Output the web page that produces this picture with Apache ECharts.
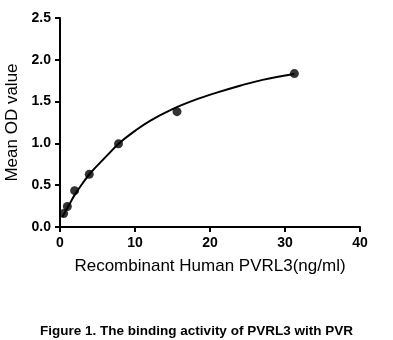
<!DOCTYPE html>
<html><head><meta charset="utf-8">
<script src="https://cdn.jsdelivr.net/npm/echarts@6/dist/echarts.min.js"></script>
<style>html,body{margin:0;padding:0;background:#fff}#c{width:393px;height:340px}</style>
</head><body><div id="c"></div>
<script>
var concX = [0.49, 0.98, 1.95, 3.9, 7.8, 15.6, 31.25];
var meanOD = [0.16, 0.245, 0.435, 0.63, 0.995, 1.38, 1.835];
var fitX = [0.3, 0.49, 1, 2, 3, 4, 6, 8, 10, 12, 15, 18, 21, 24, 27, 31.25];
var fitY = [0.12, 0.15, 0.23, 0.39, 0.52, 0.64, 0.83, 1.01, 1.15, 1.27, 1.41, 1.52, 1.61, 1.69, 1.76, 1.83];
var xTicks = [0, 10, 20, 30, 40];
var yTicks = [0, 0.5, 1.0, 1.5, 2.0, 2.5];

var chart = echarts.init(document.getElementById('c'), null, {renderer: 'canvas'});
var fontF = 'Liberation Sans, Arial, sans-serif';
chart.setOption({
  animation: false,
  backgroundColor: '#fff',
  grid: {left: 60, right: 33, top: 18, bottom: 113, containLabel: false, outerBoundsMode: 'none'},
  title: {
    text: 'Figure 1. The binding activity of PVRL3 with PVR',
    left: 'center', top: 319,
    textStyle: {fontFamily: fontF, fontSize: 13.5, fontWeight: 'bold', color: '#000'}
  },
  xAxis: {
    type: 'value', min: 0, max: 40, interval: 10,
    name: 'Recombinant Human PVRL3(ng/ml)', nameLocation: 'middle', nameGap: 31,
    nameTextStyle: {fontFamily: fontF, fontSize: 17, color: '#000'},
    axisLine: {show: true, onZero: false, lineStyle: {color: '#000', width: 2}},
    axisTick: {show: true, length: 5, lineStyle: {color: '#000', width: 2}},
    axisLabel: {fontFamily: fontF, fontSize: 14, fontWeight: 'bold', color: '#000', margin: 9,
      formatter: function(v){ return xTicks.indexOf(v) >= 0 ? String(v) : ''; }},
    splitLine: {show: false}
  },
  yAxis: {
    type: 'value', min: 0, max: 2.5, interval: 0.5,
    name: 'Mean OD value', nameLocation: 'middle', nameGap: 35,
    nameTextStyle: {fontFamily: fontF, fontSize: 17, color: '#000'},
    axisLine: {show: true, onZero: false, lineStyle: {color: '#000', width: 2}},
    axisTick: {show: true, length: 5, lineStyle: {color: '#000', width: 2}},
    axisLabel: {fontFamily: fontF, fontSize: 14, fontWeight: 'bold', color: '#000', margin: 9,
      formatter: function(v){ return v.toFixed(1); }},
    splitLine: {show: false}
  },
  series: [
    {type: 'line', data: fitX.map(function(x,i){return [x, fitY[i]];}), smooth: 0.4,
     showSymbol: false, lineStyle: {color: '#000', width: 2}, z: 2},
    {type: 'scatter', data: concX.map(function(x,i){return [x, meanOD[i]];}),
     symbol: 'circle', symbolSize: 9, itemStyle: {color: '#000'}, z: 3}
  ]
});
</script></body></html>
